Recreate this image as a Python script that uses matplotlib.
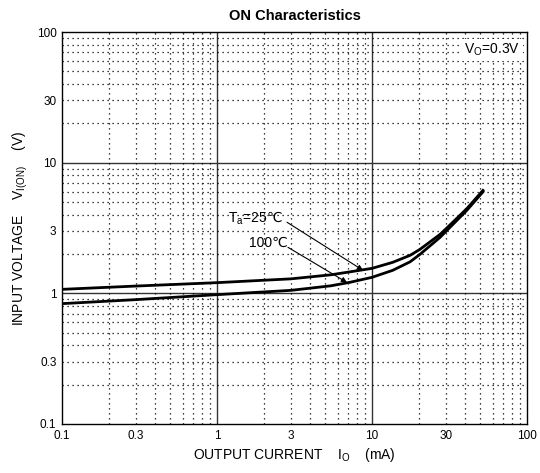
import matplotlib
matplotlib.use("Agg")
import matplotlib.pyplot as plt
from matplotlib.ticker import FixedLocator, NullLocator

plt.rcParams['font.family'] = ['Liberation Sans', 'DejaVu Sans']
plt.rcParams['mathtext.fontset'] = 'custom'
plt.rcParams['mathtext.rm'] = 'Liberation Sans'

# Data
io_25 = [0.1, 0.3, 1.0, 3.0, 5.4, 7.2, 10.0, 13.6, 17.6, 20.4, 27.5, 30.7, 40.9, 52.0]
vi_25 = [1.073, 1.137, 1.207, 1.291, 1.385, 1.46, 1.553, 1.727, 1.953, 2.171, 2.828, 3.199, 4.446, 6.14]
io_100 = [0.1, 0.3, 1.0, 3.0, 5.4, 7.2, 10.0, 13.6, 17.6, 20.4, 27.5, 30.7, 40.9, 52.0]
vi_100 = [0.834, 0.895, 0.977, 1.054, 1.141, 1.214, 1.326, 1.5, 1.742, 1.988, 2.683, 3.061, 4.315, 5.98]
tick_vals = [0.1, 0.3, 1, 3, 10, 30, 100]
tick_labels = ['0.1', '0.3', '1', '3', '10', '30', '100']

fig = plt.figure(figsize=(5.4, 4.73), dpi=100)
ax = fig.add_axes([0.1148, 0.1036, 0.8611, 0.8287])
ax.set_xscale('log')
ax.set_yscale('log')
ax.set_xlim(0.1, 100)
ax.set_ylim(0.1, 100)

ax.xaxis.set_major_locator(FixedLocator(tick_vals))
ax.yaxis.set_major_locator(FixedLocator(tick_vals))
ax.set_xticklabels(tick_labels)
ax.set_yticklabels(tick_labels)
ax.xaxis.set_minor_locator(NullLocator())
ax.yaxis.set_minor_locator(NullLocator())
ax.tick_params(which='both', length=0, labelsize=8.5, pad=4)

# grids: solid at decades, dotted elsewhere
for v in [1, 10]:
    ax.axvline(v, color='#333333', lw=1.0, zorder=1)
    ax.axhline(v, color='#333333', lw=1.0, zorder=1)
dotted = [d * m for d in [0.1, 1, 10] for m in [2, 3, 4, 5, 6, 7, 8, 9]]
for v in dotted:
    ax.axvline(v, color='black', lw=0.9, ls=(0, (1, 3)), zorder=1)
    ax.axhline(v, color='black', lw=0.9, ls=(0, (1, 3)), zorder=1)

for s in ax.spines.values():
    s.set_linewidth(1.0)

ax.plot(io_25, vi_25, color='black', lw=2.0, zorder=3, solid_joinstyle='round')
ax.plot(io_100, vi_100, color='black', lw=2.0, zorder=3, solid_joinstyle='round')

ax.annotate('', xy=(8.75, 1.50), xytext=(2.83, 3.5),
            arrowprops=dict(arrowstyle='-|>', color='black', lw=0.8,
                            mutation_scale=8, shrinkA=0, shrinkB=0), zorder=4)
ax.annotate('', xy=(6.9, 1.21), xytext=(2.87, 2.25),
            arrowprops=dict(arrowstyle='-|>', color='black', lw=0.8,
                            mutation_scale=8, shrinkA=0, shrinkB=0), zorder=4)
# labels: "℃" drawn as plain text next to the mathtext part
ax.text(2.1, 3.5, 'T$_\\mathregular{a}$=25', ha='right', va='baseline', fontsize=10, zorder=5)
ax.text(2.1, 3.5, '℃', ha='left', va='baseline', fontsize=10, zorder=5)
ax.text(2.85, 2.27, '100℃', ha='right', va='baseline', fontsize=10, zorder=5)

ax.text(0.985, 0.955, 'V$_\\mathregular{O}$=0.3V', transform=ax.transAxes, ha='right', va='center',
        fontsize=10, zorder=5,
        bbox=dict(facecolor='white', edgecolor='none', pad=2))

ax.set_title('ON Characteristics', fontsize=10.5, fontweight='bold', pad=9)
ax.set_xlabel('OUTPUT CURRENT    I$_\\mathregular{O}$    (mA)', fontsize=10, labelpad=3)
ax.set_ylabel('INPUT VOLTAGE    V$_\\mathregular{I(ON)}$    (V)', fontsize=10, labelpad=5)

fig.savefig('out.png', dpi=100)
